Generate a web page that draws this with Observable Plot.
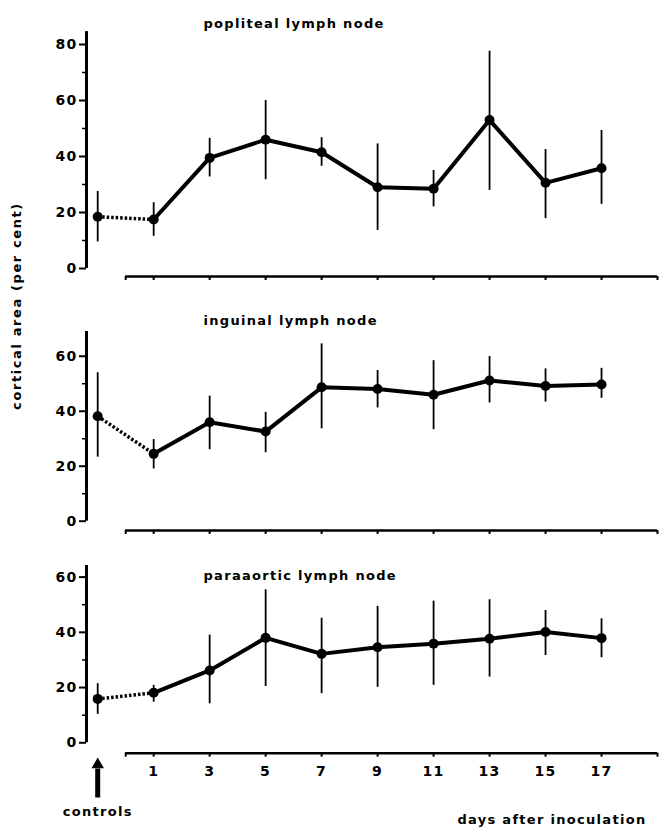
<!DOCTYPE html>
<html><head><meta charset="utf-8">
<script src="https://cdn.jsdelivr.net/npm/d3@7"></script>
<script src="https://cdn.jsdelivr.net/npm/@observablehq/plot@0.6"></script>
<style>
body{margin:0;background:#fff;}
#chart{position:relative;width:661px;height:829px;font-family:"DejaVu Sans",sans-serif;font-weight:bold;color:#000;}
#chart svg{position:absolute;left:0;}
#ylab{position:absolute;left:16px;top:306px;transform:translate(-50%,-50%) rotate(-90deg);white-space:nowrap;font-size:13px;letter-spacing:1.6px;}
</style></head><body><div id="chart"><div id="ylab">cortical area (per cent)</div></div>
<script>
// x positions: -1 = controls, then days after inoculation
const days = [-1, 1, 3, 5, 7, 9, 11, 13, 15, 17];
const dayTicks = [1, 3, 5, 7, 9, 11, 13, 15, 17];
const titles = ["popliteal lymph node", "inguinal lymph node", "paraaortic lymph node"];

const poplitealMean = [18.5, 17.5, 39.5, 46, 41.5, 29, 28.5, 53, 30.6, 35.8];
const poplitealLo   = [9.5, 11.5, 32.7, 31.7, 36.5, 13.6, 22, 27.9, 17.8, 22.9];
const poplitealHi   = [27.5, 23.5, 46.5, 60, 46.7, 44.5, 35, 77.6, 42.5, 49.3];

const inguinalMean = [38.2, 24.5, 36, 32.6, 48.7, 48.1, 46, 51.2, 49.2, 49.7];
const inguinalLo   = [23.3, 19, 26, 24.9, 33.6, 41.2, 33.3, 43, 43.3, 44.7];
const inguinalHi   = [54, 29.7, 45.5, 39.6, 64.5, 54.8, 58.4, 59.9, 55.4, 55.6];

const paraaorticMean = [15.9, 18.1, 26.2, 38, 32.2, 34.6, 35.9, 37.7, 40.1, 37.9];
const paraaorticLo   = [10.3, 14.7, 14.1, 20.4, 17.8, 20.1, 20.8, 23.8, 31.6, 30.8];
const paraaorticHi   = [21.4, 20.8, 39, 55.4, 45.1, 49.4, 51.3, 51.8, 47.9, 44.9];

const yMajor = [[0, 20, 40, 60, 80], [0, 20, 40, 60], [0, 20, 40, 60]];
const yMinor = [[10, 30, 50, 70], [10, 30, 50], [10, 30, 50]];

const controlsLabel = "controls";
const xLabel = "days after inoculation";

const chart = document.getElementById("chart");
const font = "'DejaVu Sans', sans-serif";

function panel({top, height, marginTop, marginBottom, yDomain, yTop, major, minor, title, titleY, mean, lo, hi, last}) {
  const data = days.map((d, i) => ({day: d, mean: mean[i], lo: lo[i], hi: hi[i]}));
  const xTicks = [0, ...dayTicks, 19];
  const marks = [
    Plot.ruleX([-1.4], {y1: 0, y2: yTop, strokeWidth: 3}),
    Plot.axisY({ticks: major, tickSize: 7, tickPadding: 2, strokeWidth: 2, fontSize: 14, fontWeight: "bold", label: null}),
    Plot.axisY({ticks: minor, tickSize: 4, strokeWidth: 1.5, tickFormat: () => "", label: null}),
    Plot.ruleY([yDomain[0]], {x1: 0, x2: 19, strokeWidth: 2.5}),
    Plot.axisX({ticks: xTicks, tickSize: 4, strokeWidth: 2, tickPadding: 9, fontSize: 14, fontWeight: "bold", label: null,
      tickFormat: d => (last && dayTicks.includes(d)) ? String(d) : ""}),
    Plot.ruleX(data, {x: "day", y1: "lo", y2: "hi", strokeWidth: 1.8}),
    Plot.line(data.filter(d => d.day <= 1), {x: "day", y: "mean", strokeWidth: 3.5, strokeDasharray: "2.5,2", strokeLinecap: "butt"}),
    Plot.line(data.filter(d => d.day >= 1), {x: "day", y: "mean", strokeWidth: 4, strokeLinejoin: "round"}),
    Plot.dot(data, {x: "day", y: "mean", r: 5, fill: "black"}),
    Plot.text([title], {x: -1.4, frameAnchor: "top-left", textAnchor: "start", dx: 117, dy: titleY - marginTop, fontSize: 13, fontWeight: "bold", lineAnchor: "middle"})
  ];
  if (last) {
    marks.push(
      Plot.ruleX([-1], {y1: -20, y2: -9.5, strokeWidth: 5}),
      Plot.dot([-1], {x: d => d, y: -7.9, symbol: "triangle", r: 4.6, fill: "black"}),
      Plot.text([controlsLabel], {x: -1, frameAnchor: "bottom", dy: 59, fontSize: 13, fontWeight: "bold", lineAnchor: "middle", style: "letter-spacing:1px"}),
      Plot.text([xLabel], {frameAnchor: "bottom-right", textAnchor: "end", dx: -11, dy: 67, fontSize: 13, fontWeight: "bold", lineAnchor: "middle"})
    );
  }
  const svg = Plot.plot({
    width: 661, height, marginLeft: 86, marginRight: 4, marginTop, marginBottom,
    x: {domain: [-1.4, 19]},
    y: {domain: yDomain},
    style: {fontFamily: font, fontWeight: "bold", color: "black", background: "transparent", overflow: "visible", letterSpacing: "1.3px"},
    marks
  });
  svg.style.top = top + "px";
  chart.appendChild(svg);
}

panel({top: 0, height: 290, marginTop: 30, marginBottom: 14, yDomain: [-2.857, 85], yTop: 84.6, major: yMajor[0], minor: yMinor[0], title: titles[0], titleY: 23, mean: poplitealMean, lo: poplitealLo, hi: poplitealHi, last: false});
panel({top: 290, height: 250, marginTop: 41, marginBottom: 10, yDomain: [-3.38, 69], yTop: 69, major: yMajor[1], minor: yMinor[1], title: titles[1], titleY: 30, mean: inguinalMean, lo: inguinalLo, hi: inguinalHi, last: false});
panel({top: 540, height: 289, marginTop: 25, marginBottom: 76.3, yDomain: [-3.77, 64.2], yTop: 64.2, major: yMajor[2], minor: yMinor[2], title: titles[2], titleY: 35, mean: paraaorticMean, lo: paraaorticLo, hi: paraaorticHi, last: true});
</script>
</body></html>
